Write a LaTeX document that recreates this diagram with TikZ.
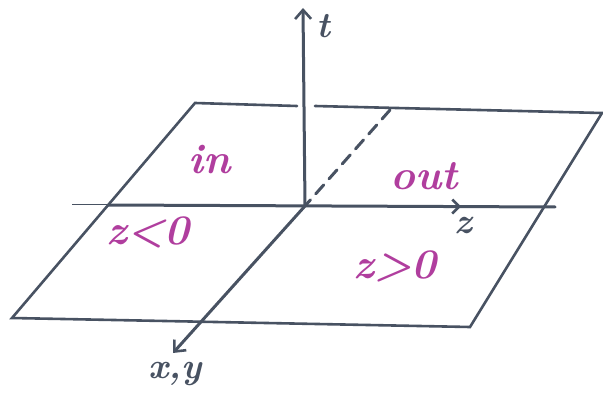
\documentclass[tikz,border=0pt]{standalone}
\usepackage{tikz}
\usetikzlibrary{arrows.meta, decorations.markings}

\definecolor{pen}{RGB}{72,82,98}
\definecolor{marker}{RGB}{176,62,158}

\begin{document}
\begin{tikzpicture}[x=1pt, y=-1pt,
  axis/.style={pen, line width=3pt, line cap=round},
  edge/.style={pen, line width=2.6pt, line cap=round},
  tip/.style={-{Straight Barb[length=9pt, width=16pt, line width=2.6pt]}},
  region/.style={marker, font=\fontsize{42}{42}\selectfont\bfseries\itshape},
  axlabel/.style={pen, font=\fontsize{36}{36}\selectfont\bfseries\itshape}]
\useasboundingbox (0,0) rectangle (603,401);

% the plane z--(x,y)
\coordinate (tl) at (195,103);
\coordinate (tr) at (602,113);
\coordinate (br) at (470,327);
\coordinate (bl) at (12,318);
\coordinate (gapl) at (297,106);
\coordinate (gapr) at (315,106);
\draw[edge] (gapr) -- (tr) -- (br) -- (bl) -- (tl) -- (gapl);

% axes
\coordinate (O) at (305,206);
\coordinate (ttop) at (303,8);
\coordinate (zl) at (72,205);
\coordinate (zr) at (555,207);
\coordinate (xback) at (390,110);
\coordinate (xfront) at (173,353);
\draw[pen, line width=1pt] (zl) -- (108,205);
\draw[axis, decoration={markings, mark=at position 0.79 with
      {\arrow{Straight Barb[length=7pt, width=14pt, line width=2.6pt]}}},
      postaction={decorate}] (108,205) -- (zr);
\draw[axis, tip] (O) -- (ttop);
\draw[axis, dash pattern=on 12pt off 8pt] (xback) -- (O);
\draw[axis, tip] (O) -- (xfront);

% labels
\node[axlabel] (tlab) at (323,26) {t};
\node[axlabel] (zlab) at (463,226) {z};
\node[axlabel] (xylab) at (175,374) {x,y};
\node[region] (inlab) at (210,160) {in};
\node[region] (outlab) at (424,176) {out};
\node[region] (zneg) at (148,232) {z<0};
\node[region] (zpos) at (395,266) {z>0};
\end{tikzpicture}
\end{document}
